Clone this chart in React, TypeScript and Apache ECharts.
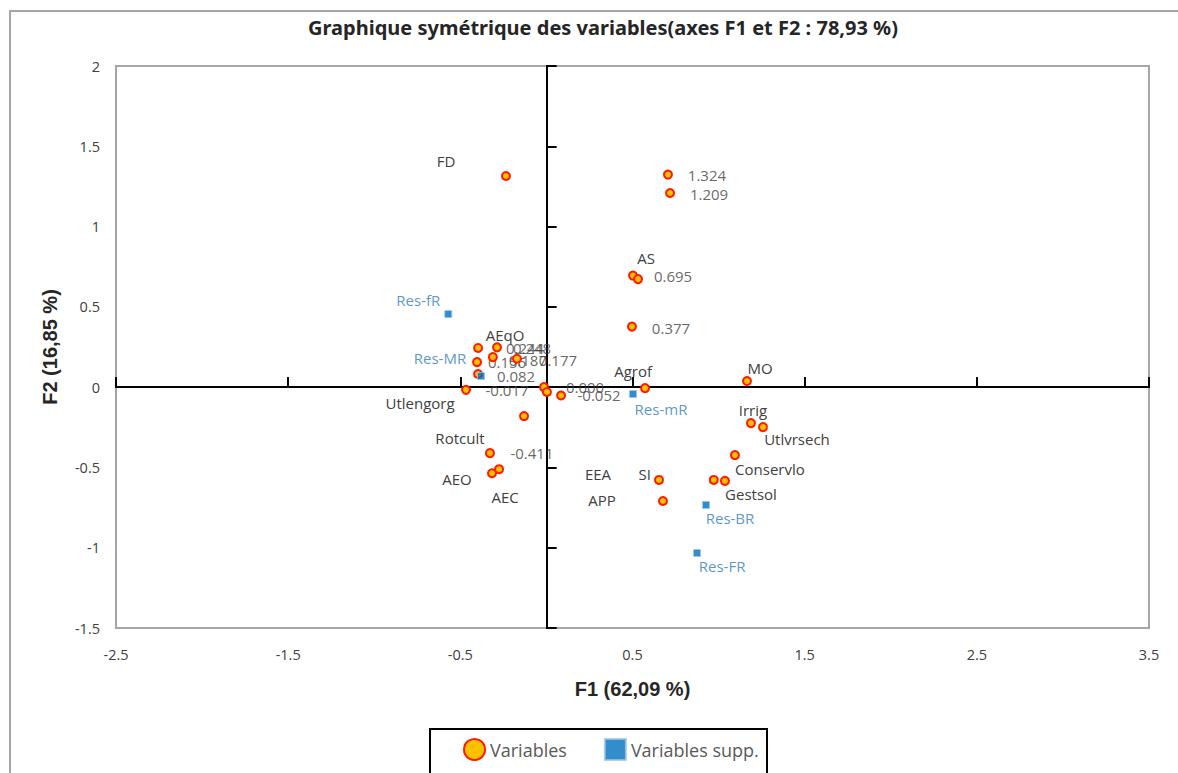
import React, { useEffect, useRef } from "react";
import * as echarts from "echarts";

// ---- Data ----
const titleText = "Graphique symétrique des variables(axes F1 et F2 : 78,93 %)";
const xAxisName = "F1 (62,09 %)";
const yAxisName = "F2 (16,85 %)";
const xTicks = [-2.5, -1.5, -0.5, 0.5, 1.5, 2.5, 3.5];
const yTicks = [-1.5, -1, -0.5, 0, 0.5, 1, 1.5, 2];

// Active variables
const varNames = [
  "FD", "", "", "AS", "", "", "", "AEqO", "", "", "", "", "Utlengorg", "", "", "", "",
  "Agrof", "MO", "Irrig", "Utlvrsech", "Conservlo", "SI", "Gestsol", "EEA", "APP", "Rotcult", "AEO", "AEC",
];
const varF1 = [
  -0.235, 0.706, 0.718, 0.503, 0.532, 0.497, -0.397, -0.287, -0.311, -0.403, -0.171, -0.397, -0.467, -0.014, 0.003, 0.085, -0.13,
  0.573, 1.165, 1.188, 1.258, 1.095, 0.972, 1.037, 0.654, 0.677, -0.328, -0.316, -0.275,
];
const varF2 = [
  1.315, 1.324, 1.209, 0.695, 0.673, 0.377, 0.244, 0.248, 0.187, 0.156, 0.177, 0.082, -0.017, 0.0, -0.03, -0.052, -0.18,
  -0.006, 0.038, -0.224, -0.249, -0.423, -0.578, -0.584, -0.578, -0.709, -0.411, -0.536, -0.511,
];
// which active points also carry their F2 value as a label
const varShowValue = [
  false, true, true, true, false, true, true, true, true, true, true, true, true, true, false, true, false,
  false, false, false, false, false, false, false, false, false, true, false, false,
];

// Supplementary variables
const suppNames = ["Res-fR", "Res-MR", "Res-mR", "Res-BR", "Res-FR"];
const suppF1 = [-0.57, -0.38, 0.503, 0.927, 0.875];
const suppF2 = [0.455, 0.069, -0.043, -0.734, -1.033];

// ---- Label placement (style, pixels from point centre) ----
const nameOffsets: [number, number][] = [
  [-60, -15], [0, 0], [0, 0], [13, -18], [0, 0], [0, 0], [0, 0], [8, -12], [0, 0], [0, 0], [0, 0], [0, 0], [-46, 13], [0, 0], [0, 0], [0, 0], [0, 0],
  [-12, -17], [13, -13], [2, -13], [34, 12], [35, 14], [-69, -6], [26, 13], [-61, -6], [-61, -1], [-30, -15], [-35, 6], [6, 28],
];
const valueOffsets: [number, number][] = [
  [0, 0], [39, 0], [39, 1], [40, 0], [0, 0], [39, 1], [47, 0], [35, 1], [35, 3], [30, 0], [41, 1], [38, 2], [41, 0], [41, 0], [0, 0], [38, 0], [0, 0],
  [0, 0], [0, 0], [0, 0], [0, 0], [0, 0], [0, 0], [0, 0], [0, 0], [0, 0], [42, 0], [0, 0], [0, 0],
];
const suppOffsets: [number, number][] = [[-30, -14], [-41, -18], [28, 15], [24, 13], [25, 13]];

const FONT = "'Open Sans', 'Noto Sans', sans-serif";
const TEXT_GRAY = "#404040";
const BLUE_TEXT = "#2e7bc4";

export default function App() {
  const ref = useRef<HTMLDivElement>(null);

  useEffect(() => {
    if (!ref.current) return;
    const chart = echarts.init(ref.current, undefined, { renderer: "svg" });

    const varData = varF1.map((x, i) => ({
      value: [x, varF2[i]],
      label: {
        show: varNames[i] !== "",
        formatter: varNames[i],
        position: "inside",
        offset: nameOffsets[i],
      },
    }));
    const valData = varF1.map((x, i) => ({
      value: [x, varF2[i]],
      label: {
        show: varShowValue[i],
        formatter: varF2[i].toFixed(3),
        position: "inside",
        offset: valueOffsets[i],
      },
    }));
    const suppData = suppF1.map((x, i) => ({
      value: [x, suppF2[i]],
      label: {
        show: true,
        formatter: suppNames[i],
        position: "inside",
        offset: suppOffsets[i],
      },
    }));

    const crossLine = { color: "#000", width: 2 };
    const hiddenLabel = { show: false };
    const baseX = { type: "value", min: -2.5, max: 3.5, splitLine: { show: false }, gridIndex: 0 };
    const baseY = { type: "value", min: -1.5, max: 2, splitLine: { show: false }, gridIndex: 0 };
    const axisNameStyle = { fontFamily: "'Liberation Sans', Arial, sans-serif", fontWeight: "bold", fontSize: 20, color: "#262626" };

    chart.setOption({
      animation: false,
      backgroundColor: "#fff",
      title: {
        text: titleText,
        left: 598,
        textAlign: "center",
        top: 12,
        textStyle: { fontFamily: "'Liberation Sans Narrow', 'Noto Sans', sans-serif", fontWeight: "bold", fontSize: 20, color: "#262626" },
      },
      graphic: [
        {
          type: "rect",
          shape: { x: 10, y: 11, width: 1400, height: 900 },
          style: { fill: "none", stroke: "#a6a6a6", lineWidth: 2 },
          silent: true,
        },
        {
          type: "rect",
          shape: { x: 430, y: 729, width: 337, height: 80 },
          style: { fill: "#fff", stroke: "#000", lineWidth: 2 },
          silent: true,
          z: 5,
        },
      ],
      grid: {
        left: 116,
        top: 66,
        right: 29,
        bottom: 145,
        show: true,
        borderColor: "#a6a6a6",
        borderWidth: 2,
      },
      legend: {
        data: ["Variables", "Variables supp."],
        left: 458,
        top: 733,
        itemWidth: 21,
        itemHeight: 21,
        itemGap: 37,
        z: 10,
        textStyle: { fontFamily: FONT, fontSize: 18, color: "#595959" },
      },
      xAxis: [
        {
          ...baseX,
          position: "bottom",
          axisLine: { show: false },
          axisTick: { show: false },
          axisLabel: { customValues: xTicks, margin: 19, fontFamily: FONT, fontSize: 14.5, color: TEXT_GRAY },
          name: xAxisName,
          nameLocation: "middle",
          nameGap: 51,
          nameTextStyle: axisNameStyle,
        },
        {
          ...baseX,
          position: "top",
          axisLine: { show: true, onZero: true, onZeroAxisIndex: 0, lineStyle: crossLine },
          axisTick: { show: true, customValues: xTicks, inside: false, length: 10, lineStyle: crossLine },
          axisLabel: hiddenLabel,
        },
        {
          ...baseX,
          position: "bottom",
          offset: 0,
          axisLine: { show: true, onZero: true, onZeroAxisIndex: 0, lineStyle: crossLine },
          axisTick: { show: true, customValues: xTicks, inside: true, length: 10, lineStyle: crossLine },
          axisLabel: hiddenLabel,
        },
      ],
      yAxis: [
        {
          ...baseY,
          position: "left",
          axisLine: { show: false },
          axisTick: { show: false },
          axisLabel: { customValues: yTicks, margin: 16, fontFamily: FONT, fontSize: 14.5, color: TEXT_GRAY },
          name: yAxisName,
          nameLocation: "middle",
          nameGap: 56,
          nameTextStyle: axisNameStyle,
        },
        {
          ...baseY,
          position: "right",
          axisLine: { show: true, onZero: true, onZeroAxisIndex: 0, lineStyle: crossLine },
          axisTick: { show: true, customValues: yTicks, inside: false, length: 10, lineStyle: crossLine },
          axisLabel: hiddenLabel,
        },
        {
          ...baseY,
          position: "left",
          axisLine: { show: true, onZero: true, onZeroAxisIndex: 0, lineStyle: crossLine },
          axisTick: { show: true, customValues: yTicks, inside: true, length: 10, lineStyle: crossLine },
          axisLabel: hiddenLabel,
        },
      ],
      series: [
        {
          name: "Variables",
          type: "scatter",
          xAxisIndex: 0,
          yAxisIndex: 0,
          symbol: "circle",
          symbolSize: 8,
          itemStyle: { color: "#ffc000", borderColor: "#ff1a00", borderWidth: 2, opacity: 1 },
          label: { fontFamily: FONT, fontSize: 15, color: TEXT_GRAY },
          data: varData,
          z: 4,
        },
        {
          name: "Variables values",
          type: "scatter",
          xAxisIndex: 0,
          yAxisIndex: 0,
          symbol: "circle",
          symbolSize: 8,
          silent: true,
          itemStyle: { color: "rgba(0,0,0,0)", borderWidth: 0 },
          label: { fontFamily: FONT, fontSize: 15, color: TEXT_GRAY },
          data: valData,
          z: 3,
        },
        {
          name: "Variables supp.",
          type: "scatter",
          xAxisIndex: 0,
          yAxisIndex: 0,
          symbol: "rect",
          symbolSize: 7,
          itemStyle: { color: "#0070c0", borderColor: "#9dc3e6", borderWidth: 1 },
          label: { fontFamily: FONT, fontSize: 15, color: BLUE_TEXT },
          data: suppData,
          z: 4,
        },
      ],
    });

    return () => chart.dispose();
  }, []);

  return <div ref={ref} style={{ position: "absolute", left: 0, top: 0, width: 1178, height: 773 }} />;
}
